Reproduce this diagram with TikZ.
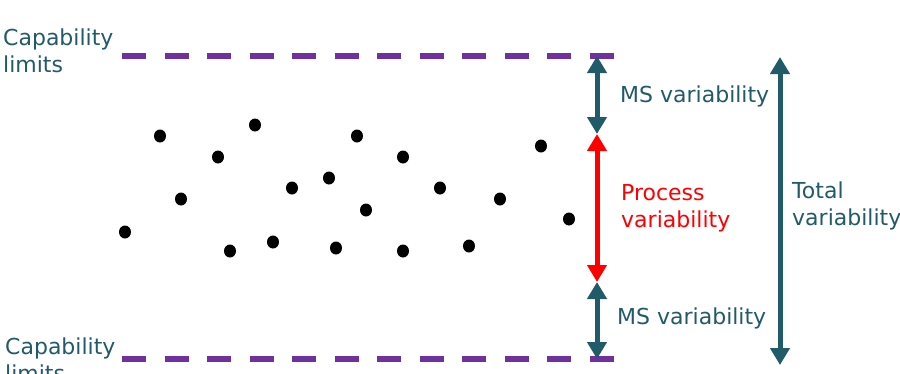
\documentclass[tikz,border=0pt]{standalone}
\usepackage{fontspec}
\setmainfont{DejaVu Sans}
\usetikzlibrary{arrows.meta,shapes.geometric}
\definecolor{teal}{HTML}{215A69}
\definecolor{limitpurple}{HTML}{7030A0}
\definecolor{procred}{HTML}{FF0000}
\tikzset{
  limitline/.style={limitpurple, line width=6pt, dash pattern=on 24pt off 18.5pt},
  dot/.style={ellipse, fill=black, inner sep=0pt, minimum width=12pt, minimum height=13pt},
  lbl/.style={font=\fontsize{22}{27}\selectfont, inner sep=0pt, anchor=base west, align=left},
  varrow/.style={line width=5pt, {Triangle[width=19pt,length=17pt]}-{Triangle[width=19pt,length=17pt]}}
}
\begin{document}
\begin{tikzpicture}[x=1pt,y=-1pt]
\useasboundingbox (0,0) rectangle (900,373);
\clip (0,0) rectangle (900,373);
% limit lines
\coordinate (topL) at (122,56);
\coordinate (topR) at (614,56);
\coordinate (botL) at (122,359);
\coordinate (botR) at (614,359);
\draw[limitline] (topL) -- (topR);
\draw[limitline] (botL) -- (botR);
% labels (base anchor = baseline of last line)
\node[lbl, text=teal] (captop) at (3,72) {Capability\\limits};
\node[lbl, text=teal] (capbot) at (5,381) {Capability\\limits};
% dots
\foreach \x/\y [count=\i] in {160/136,255/125,218/157,181/199,292/188,329/178,125/232,230/251,273/242,336/248,357/136,403/157,440/188,500/199,541/146,366/210,569/219,403/251,469/246}
  \node[dot] (d\i) at (\x,\y) {};
% arrows
\coordinate (ms1) at (597,56);
\coordinate (ms2) at (597,134);
\coordinate (ms3) at (597,282);
\coordinate (ms4) at (597,359);
\draw[varrow, teal] (ms1) -- (ms2);
\draw[varrow, procred] (ms2) -- (ms3);
\draw[varrow, teal] (ms3) -- (ms4);
\coordinate (tot1) at (780,57);
\coordinate (tot2) at (780,365);
\draw[varrow, teal] (tot1) -- (tot2);
% arrow labels
\node[lbl, text=teal] (mstop) at (620,102) {MS variability};
\node[lbl, text=teal] (msbot) at (617,324) {MS variability};
\node[lbl, text=procred] (proc) at (621,227) {Process\\variability};
\node[lbl, text=teal] (total) at (792,225) {Total\\variability};
\end{tikzpicture}
\end{document}
